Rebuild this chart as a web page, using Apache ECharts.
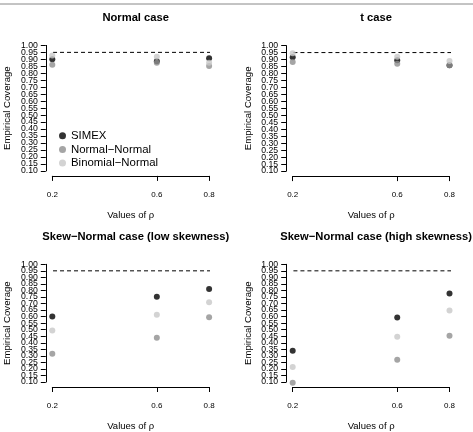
<!DOCTYPE html>
<html>
<head>
<meta charset="utf-8">
<script src="https://cdn.jsdelivr.net/npm/echarts@6/dist/echarts.min.js"></script>
<style>
  html, body { margin: 0; padding: 0; background: #fff; }
  #main { width: 473px; height: 432px; }
</style>
</head>
<body>
<div id="main"></div>
<script>
// values of rho on the x axis
var rho = [0.2, 0.6, 0.8];
var xTicks = [0.2, 0.6, 0.8];
var yTicks = [0.10, 0.15, 0.20, 0.25, 0.30, 0.35, 0.40, 0.45, 0.50, 0.55,
              0.60, 0.65, 0.70, 0.75, 0.80, 0.85, 0.90, 0.95, 1.00];
var methods = ['SIMEX', 'Normal\u2212Normal', 'Binomial\u2212Normal'];
var titles = ['Normal case', 't case',
              'Skew\u2212Normal case (low skewness)', 'Skew\u2212Normal case (high skewness)'];
var nominal = 0.95;

// empirical coverage
var normalSimex = [0.900, 0.887, 0.907];
var normalNN    = [0.861, 0.876, 0.852];
var normalBN    = [0.927, 0.918, 0.875];

var tSimex = [0.916, 0.895, 0.859];
var tNN    = [0.883, 0.870, 0.859];
var tBN    = [0.945, 0.920, 0.890];

var lowSimex = [0.600, 0.751, 0.811];
var lowNN    = [0.316, 0.438, 0.596];
var lowBN    = [0.493, 0.615, 0.710];

var highSimex = [0.338, 0.594, 0.777];
var highNN    = [0.095, 0.270, 0.453];
var highBN    = [0.215, 0.446, 0.647];

var panelData = [
  [normalSimex, normalNN, normalBN],
  [tSimex, tNN, tBN],
  [lowSimex, lowNN, lowBN],
  [highSimex, highNN, highBN]
];

var colors = ['#000000', '#8e8e8e', '#c8c8c8'];
var fontFamily = '"Liberation Sans", Arial, Helvetica, sans-serif';

// plot boxes (left / top of the data range)
var boxes = [
  { left: 52.3, top: 45.4 },
  { left: 292.7, top: 45.6 },
  { left: 52.3, top: 264.3 },
  { left: 292.7, top: 264.3 }
];
var boxW = 156.8, boxH = 125.5;

// R pads the plot region by 4% on each side
var xMin = rho[0], xMax = rho[rho.length - 1];
var xPad = 0.04 * (xMax - xMin);
var yMin = yTicks[0], yMax = yTicks[yTicks.length - 1];

var chart = echarts.init(document.getElementById('main'), null, { renderer: 'canvas' });

var grid = [], xAxis = [], yAxis = [], series = [], title = [];

var yLabelStyle = {
  show: true, margin: 8,
  fontFamily: fontFamily, fontSize: 8.7, color: '#000',
  formatter: function (v) { return v.toFixed(2); }
};

boxes.forEach(function (b, i) {
  grid.push({ left: b.left, top: b.top, width: boxW, height: boxH, containLabel: false });

  title.push({
    text: titles[i],
    left: b.left + boxW / 2,
    top: b.top - 38,
    textAlign: 'center',
    textStyle: { fontFamily: fontFamily, fontSize: 11.2, fontWeight: 'bold', color: '#000' }
  });

  xAxis.push({
    gridIndex: i,
    type: 'value',
    min: xMin,
    max: xMax,
    offset: 5,
    name: 'Values of \u03c1',
    nameLocation: 'middle',
    nameGap: 34,
    nameTextStyle: { fontFamily: fontFamily, fontSize: 9.5, color: '#000' },
    axisLine: { show: true, lineStyle: { color: '#000', width: 1 } },
    axisTick: { show: true, inside: false, length: 5, customValues: xTicks,
                lineStyle: { color: '#000', width: 1 } },
    axisLabel: { show: true, margin: 15, customValues: xTicks,
                 showMinLabel: true, showMaxLabel: true,
                 fontFamily: fontFamily, fontSize: 8, color: '#000',
                 formatter: function (v) { return v.toFixed(1); } },
    splitLine: { show: false }
  });

  // main y axis: line, inner ticks and labels
  yAxis.push({
    gridIndex: i,
    type: 'value',
    position: 'left',
    min: yMin,
    max: yMax,
    offset: 6.5,
    name: 'Empirical Coverage',
    nameLocation: 'middle',
    nameGap: 33,
    nameTextStyle: { fontFamily: fontFamily, fontSize: 9.6, color: '#000' },
    axisLine: { show: true, lineStyle: { color: '#000', width: 1 } },
    axisTick: { show: true, inside: false, length: 5, customValues: yTicks,
                lineStyle: { color: '#000', width: 1 } },
    axisLabel: Object.assign({ customValues: yTicks }, yLabelStyle),
    splitLine: { show: false }
  });
  // end labels (0.10 and 1.00), which the main axis drops as overlapping
  yAxis.push({
    gridIndex: i,
    type: 'value',
    position: 'left',
    min: yMin,
    max: yMax,
    offset: 6.5,
    axisLine: { show: false },
    axisTick: { show: true, inside: false, length: 5, customValues: [yMin, yMax],
                lineStyle: { color: '#000', width: 1 } },
    axisLabel: Object.assign({ customValues: [yMin, yMax], showMinLabel: true, showMaxLabel: true }, yLabelStyle),
    splitLine: { show: false }
  });

  // dashed reference line at the nominal level, across the padded plot region
  series.push({
    type: 'line',
    xAxisIndex: i,
    yAxisIndex: 2 * i,
    data: [[xMin - xPad, nominal], [xMax + xPad, nominal]],
    symbol: 'none',
    clip: false,
    silent: true,
    lineStyle: { color: '#000', width: 1, type: [4, 3] },
    z: 1
  });

  panelData[i].forEach(function (vals, j) {
    series.push({
      type: 'scatter',
      name: methods[j],
      xAxisIndex: i,
      yAxisIndex: 2 * i,
      data: rho.map(function (r, k) { return [r, vals[k]]; }),
      symbol: 'circle',
      symbolSize: 6,
      clip: false,
      itemStyle: { color: colors[j] },
      z: 2 + j
    });
  });
});

var option = {
  animation: false,
  backgroundColor: '#fff',
  title: title,
  grid: grid,
  xAxis: xAxis,
  yAxis: yAxis,
  legend: {
    data: methods,
    orient: 'vertical',
    left: 54,
    top: 124,
    icon: 'circle',
    itemWidth: 7,
    itemHeight: 7,
    itemGap: 0,
    textStyle: { fontFamily: fontFamily, fontSize: 11.4, color: '#000', lineHeight: 13.6 }
  },
  graphic: [{
    type: 'line',
    shape: { x1: 0, y1: 4, x2: 473, y2: 4 },
    style: { stroke: '#888', lineWidth: 1 }
  }],
  series: series
};

chart.setOption(option);
</script>
</body>
</html>
